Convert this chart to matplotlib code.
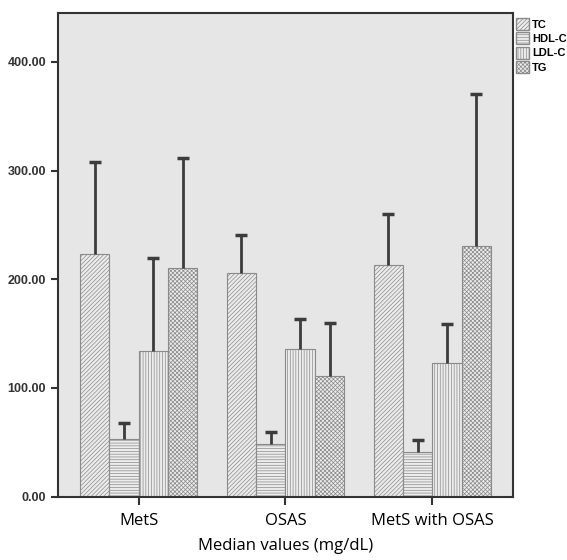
"""Lipid profile bars (median values) by group, SPSS-style hatched bars."""

import matplotlib

matplotlib.use("Agg")
import matplotlib.pyplot as plt
import numpy as np
from matplotlib.patches import Patch
from matplotlib.ticker import FormatStrFormatter

groups = ["MetS", "OSAS", "MetS with OSAS"]
series = ["TC", "HDL-C", "LDL-C", "TG"]

tc = [223, 206, 213]
hdl = [53, 48.5, 41]
ldl = [134, 136, 123]
tg = [210.5, 111, 230.5]

# top of the upper error whisker for each bar
tc_hi = [308, 241, 260]
hdl_hi = [67.5, 59.5, 52]
ldl_hi = [220, 163, 158.5]
tg_hi = [311.5, 160, 370]

values = [tc, hdl, ldl, tg]
uppers = [tc_hi, hdl_hi, ldl_hi, tg_hi]
hatches = ["////////", "------", "||||||", "xxxxxxxx"]

plt.rcParams["hatch.linewidth"] = 0.5
plt.rcParams["hatch.color"] = "#8a8a8a"

fig = plt.figure(figsize=(5.67, 5.60), dpi=100)
ax = fig.add_axes([0.102, 0.113, 0.803, 0.864])
ax.set_facecolor("#e6e6e6")

x = np.arange(len(groups))
width = 0.2
for i, (vals, hi, hatch) in enumerate(zip(values, uppers, hatches)):
    pos = x + (i - 1.5) * width
    ax.bar(pos, vals, width, color="#ececec", edgecolor="#8a8a8a",
           hatch=hatch, linewidth=0.8, zorder=2)
    # upper whisker only, SPSS style
    ax.vlines(pos, vals, hi, color="#3c3c3c", linewidth=2, zorder=3)
    ax.plot(pos, hi, linestyle="none", marker="_", markersize=8,
            markeredgewidth=2.5, color="#3c3c3c", zorder=3)

ax.set_xlim(-0.55, 2.55)
ax.set_ylim(0, 445)
ax.set_yticks([0, 100, 200, 300, 400])
ax.yaxis.set_major_formatter(FormatStrFormatter("%.2f"))
ax.set_xticks(x)
ax.set_xticklabels(groups, family="Open Sans", fontsize=12)
ax.tick_params(axis="y", labelsize=9, length=5, width=1.5, color="#333333")
ax.tick_params(axis="x", length=6, width=1.5, color="#333333", pad=6)
for label in ax.get_yticklabels():
    label.set_family("Liberation Sans")
    label.set_fontweight("bold")
    label.set_color("#333333")
for spine in ax.spines.values():
    spine.set_color("#333333")
    spine.set_linewidth(1.5)

ax.set_xlabel("Median values (mg/dL)", family="Open Sans", fontsize=12, labelpad=6)

handles = [Patch(facecolor="#ececec", edgecolor="#8a8a8a", hatch=h, label=s)
           for h, s in zip(hatches, series)]
fig.legend(handles=handles, loc="upper left", bbox_to_anchor=(0.907, 0.972),
           frameon=False, handlelength=1.1, handleheight=1.3, handletextpad=0.3,
           labelspacing=0.2, borderaxespad=0, borderpad=0.2,
           prop={"family": "Liberation Sans", "weight": "bold", "size": 8})

fig.savefig("out.png", dpi=100)
